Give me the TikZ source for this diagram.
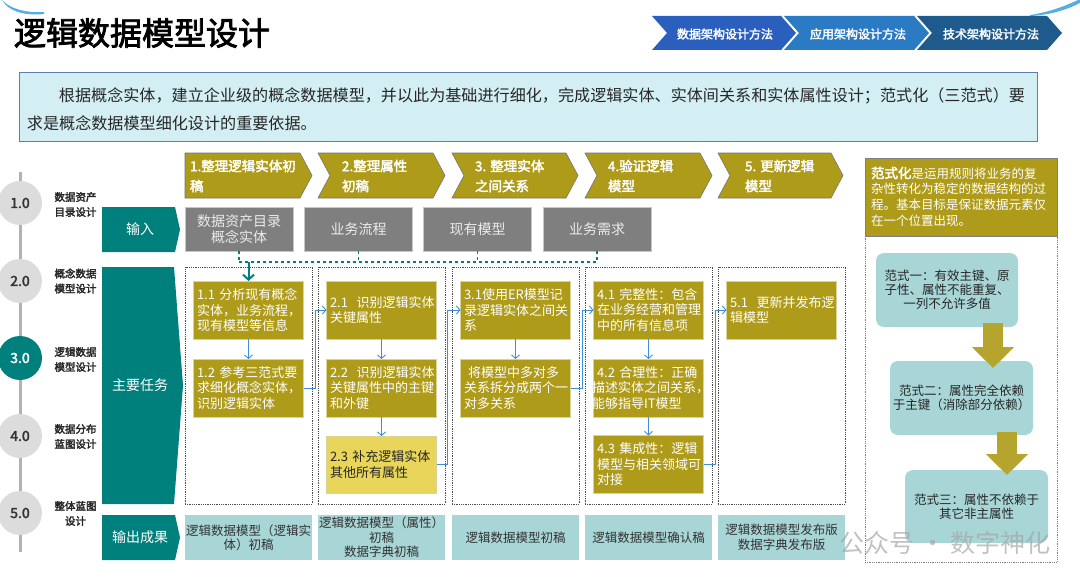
\documentclass[tikz,border=0pt]{standalone}
\usepackage{fontspec}
\setmainfont{Noto Sans CJK SC}[AutoFakeBold=2.5]
\usetikzlibrary{arrows.meta,calc}
\definecolor{olive}{HTML}{AF9B1A}
\definecolor{lightolive}{HTML}{E8D55A}
\definecolor{teal}{HTML}{00807D}
\definecolor{ingray}{HTML}{7F7F7F}
\definecolor{outfill}{HTML}{A8D5D6}
\definecolor{introfill}{HTML}{D4EFF4}
\definecolor{introdraw}{HTML}{5A7FB0}
\definecolor{circgray}{HTML}{DCDCDC}
\definecolor{arrowblue}{HTML}{3F8FD8}
\definecolor{bigarrow}{HTML}{B5A52C}
\definecolor{tabA}{HTML}{2B5FBD}
\definecolor{tabB}{HTML}{2A7BC4}
\definecolor{tabC}{HTML}{1F5A8C}
\definecolor{swoosh}{HTML}{55AEE3}
\newcommand\fsz[2]{\fontsize{#1}{#2}\selectfont}
\begin{document}
\begin{tikzpicture}[x=1pt,y=-1pt,
  every node/.style={inner sep=0pt, outer sep=0pt},
  task/.style={fill=olive, draw=olive!45!white, line width=.8pt, minimum width=110pt, minimum height=58pt, text width=103pt, align=left, text=white, font=\fsz{13}{15.5}},
  taskl/.style={task, fill=lightolive, text=black!85, minimum height=57pt},
  colbox/.style={draw=black!70, densely dotted, line width=.8pt, minimum width=127pt, minimum height=237pt},
  outb/.style={fill=outfill, minimum width=127pt, minimum height=45pt, align=center, text=black!80, font=\fsz{12.5}{14.5}},
  inb/.style={fill=ingray, draw=black!22, line width=.6pt, minimum width=108pt, minimum height=44pt, align=center, text=white!92!black, font=\fsz{14}{16.5}},
  hdr/.style={fill=olive, draw=black!55, line width=.6pt},
  hdrtext/.style={text=white, font=\bfseries\fsz{13.5}{20}, align=left, anchor=west},
  tabtext/.style={text=white, font=\bfseries\fsz{12}{14}},
  tealshape/.style={fill=teal},
  tealtext/.style={text=white, font=\fsz{14}{16}},
  circ/.style={circle, fill=circgray, minimum size=44pt, font=\bfseries\fsz{14}{16}, text=black!80},
  lbl/.style={align=center, font=\bfseries\fsz{10.5}{15}, text=black!85},
  barrow/.style={draw=arrowblue, line width=.9pt, -{Straight Barb[length=3.5pt,width=8pt]}},
  tdash/.style={draw=teal, dashed, line width=1.8pt},
  tarrow/.style={draw=teal, line width=2pt, -{Straight Barb[length=5pt,width=11pt]}},
  rbox/.style={fill=outfill, rounded corners=8pt, align=center, text=black!85, font=\fsz{12.5}{14}},
  fatarrow/.style={draw=bigarrow, line width=20pt, -{Triangle[length=21pt,width=41pt]}}
]
\useasboundingbox (0,0) rectangle (1080,586);

% swooshes
\fill[swoosh] (2,0) .. controls (10,9) and (26,13) .. (44,12) -- (44,14) .. controls (24,16) and (8,11) .. (2,0) -- cycle;
\fill[swoosh] (1030,15) .. controls (1050,12) and (1065,6) .. (1078,0) -- (1080,0) -- (1080,3) .. controls (1066,10) and (1050,15) .. (1030,16) -- cycle;

% title
\node[anchor=west, font=\bfseries\fsz{32}{36}] (title) at (14,33) {逻辑数据模型设计};

% tabs
\fill[tabA] (652,16) -- (782,16) -- (797,33) -- (782,50) -- (652,50) -- (667,33) -- cycle;
\fill[tabB] (784,16) -- (915,16) -- (930,33) -- (915,50) -- (784,50) -- (799,33) -- cycle;
\fill[tabC] (917,16) -- (1047,16) -- (1062,33) -- (1047,50) -- (917,50) -- (932,33) -- cycle;
\draw[white, line width=1.2pt] (782,16) -- (797,33) -- (782,50);
\draw[white, line width=1.2pt] (915,16) -- (930,33) -- (915,50);
\node[tabtext] (tab1) at (725,34) {数据架构设计方法};
\node[tabtext] (tab2) at (858,34) {应用架构设计方法};
\node[tabtext] (tab3) at (991,34) {技术架构设计方法};

% intro
\node[draw=introdraw, fill=introfill, line width=1pt, minimum width=1018pt, minimum height=68pt] (intro) at (528,107) {};
\node[anchor=west, align=left, font=\fsz{16.1}{28}, text=black!85] (introtext) at (27,109)
{\hspace*{32pt}根据概念实体，建立企业级的概念数据模型，并以此为基础进行细化，完成逻辑实体、实体间关系和实体属性设计；范式化（三范式）要\\求是概念数据模型细化设计的重要依据。};

% timeline
\draw[black!30, line width=3pt] (20,172) -- (20,552);
\node[circ] (c1) at (20,203) {1.0};
\node[circ] (c2) at (20,281) {2.0};
\node[circ, fill=teal, text=white] (c3) at (20,358) {3.0};
\node[circ] (c4) at (20,436) {4.0};
\node[circ] (c5) at (20,513) {5.0};
\node[lbl] (l1) at (75.5,204.5) {数据资产\\目录设计};
\node[lbl] (l2) at (75.5,281) {概念数据\\模型设计};
\node[lbl] (l3) at (75.5,359.5) {逻辑数据\\模型设计};
\node[lbl] (l4) at (75.5,436.5) {数据分布\\蓝图设计};
\node[lbl] (l5) at (75.5,513.5) {整体蓝图\\设计};

% teal row labels
\fill[tealshape] (102,207) -- (175,207) -- (180,229.5) -- (175,252) -- (102,252) -- cycle;
\fill[tealshape] (102,267) -- (174,267) -- (183,385.5) -- (174,504) -- (102,504) -- cycle;
\fill[tealshape] (102,515) -- (175,515) -- (180,537.5) -- (175,560) -- (102,560) -- cycle;
\node[tealtext] (rin) at (140,229.5) {输入};
\node[tealtext] (rtask) at (140,385.5) {主要任务};
\node[tealtext] (rout) at (140,537.5) {输出成果};

% header chevrons
\filldraw[hdr] (185,153) -- (300,153) -- (312,175.5) -- (300,198) -- (185,198) -- cycle;
\filldraw[hdr] (318,153) -- (433,153) -- (445,175.5) -- (433,198) -- (318,198) -- (330,175.5) -- cycle;
\filldraw[hdr] (452,153) -- (566,153) -- (578,175.5) -- (566,198) -- (452,198) -- (464,175.5) -- cycle;
\filldraw[hdr] (585,153) -- (700,153) -- (712,175.5) -- (700,198) -- (585,198) -- (597,175.5) -- cycle;
\filldraw[hdr] (718,153) -- (831,153) -- (843,175.5) -- (831,198) -- (718,198) -- (730,175.5) -- cycle;
\node[hdrtext] (h1) at (190,176) {1.整理逻辑实体初\\稿};
\node[hdrtext] (h2) at (342,176) {2.整理属性\\初稿};
\node[hdrtext] (h3) at (475,176) {3. 整理实体\\之间关系};
\node[hdrtext] (h4) at (608,176) {4.验证逻辑\\模型};
\node[hdrtext] (h5) at (745,176) {5. 更新逻辑\\模型};

% inputs
\node[inb] (in1) at (239,229) {数据资产目录\\概念实体};
\node[inb] (in2) at (358.5,229) {业务流程};
\node[inb] (in3) at (477.5,229) {现有模型};
\node[inb] (in4) at (597,229) {业务需求};
\coordinate (bus) at (0,262);
\draw[tdash] (in1.south) -- (in1.south |- bus);
\draw[tdash] (in2.south) -- (in2.south |- bus);
\draw[tdash] (in3.south) -- (in3.south |- bus);
\draw[tdash] (in4.south) -- (in4.south |- bus);
\draw[tdash] (in1.south |- bus) -- (in4.south |- bus);

% column containers
\node[colbox] (col1) at (248.5,385.5) {};
\node[colbox] (col2) at (381.5,385.5) {};
\node[colbox] (col3) at (515.5,385.5) {};
\node[colbox] (col4) at (648.5,385.5) {};
\node[colbox] (col5) at (781.5,385.5) {};

% tasks
\node[task] (t11) at (248.5,310) {1.1~分析现有概念\\实体，业务流程，\\现有模型等信息};
\node[task] (t12) at (248.5,388) {1.2~参考三范式要\\求细化概念实体，\\识别逻辑实体};
\node[task] (t21) at (381.5,310) {2.1~~识别逻辑实体\\关键属性};
\node[task] (t22) at (381.5,388) {2.2~~识别逻辑实体\\关键属性中的主键\\和外键};
\node[taskl] (t23) at (381.5,464.5) {2.3~补充逻辑实体\\其他所有属性};
\node[task] (t31) at (515.5,310) {3.1使用ER模型记\\录逻辑实体之间关\\系};
\node[task] (t32) at (515.5,388) {\hspace*{4pt}将模型中多对多\\关系拆分成两个一\\对多关系};
\node[task] (t41) at (648.5,310) {4.1~完整性：包含\\在业务经营和管理\\中的所有信息项};
\node[task] (t42) at (648.5,388) {4.2~合理性：正确\\\hspace*{-5pt}描述实体之间关系，\\\hspace*{-5pt}能够指导IT模型};
\node[task] (t43) at (648.5,464.5) {4.3~集成性：逻辑\\模型与相关领域可\\对接};
\node[task] (t51) at (781.5,310) {5.1~~更新并发布逻\\辑模型};

\draw[tarrow] (t11.north |- bus) -- (t11.north);

\draw[barrow] (t11.south) -- (t12.north);
\draw[barrow] (t21.south) -- (t22.north);
\draw[barrow] (t22.south) -- (t23.north);
\draw[barrow] (t31.south) -- (t32.north);
\draw[barrow] (t41.south) -- (t42.north);
\draw[barrow] (t42.south) -- (t43.north);
\draw[barrow] (t12.east) -- ++(12,0) |- (t21.west);
\draw[barrow] (t23.east) -- ++(11,0) |- (t31.west);
\draw[barrow] (t32.east) -- ++(12,0) |- (t41.west);
\draw[barrow] (t43.east) -- ++(12,0) |- (t51.west);

% outputs
\node[outb] (o1) at (248.5,537.5) {逻辑数据模型（逻辑实\\体）初稿};
\node[outb] (o2) at (381.5,537.5) {逻辑数据模型（属性）\\初稿\\数据字典初稿};
\node[outb] (o3) at (515.5,537.5) {逻辑数据模型初稿};
\node[outb] (o4) at (648.5,537.5) {逻辑数据模型确认稿};
\node[outb] (o5) at (781.5,537.5) {逻辑数据模型发布版\\数据字典发布版};

% right panel
\node[draw=black!50, densely dotted, line width=.8pt, minimum width=192pt, minimum height=404pt] (panel) at (961,360) {};
\node[fill=olive, draw=black!50, line width=.6pt, minimum width=192pt, minimum height=78pt] (phead) at (961,197) {};
\node[anchor=west, align=left, text=white, font=\fsz{12.5}{15.7}] (ptext) at (871,196.5)
{{\bfseries\fsz{13.5}{15.7}范式化}是运用规则将业务的复\\杂性转化为稳定的数据结构的过\\程。基本目标是保证数据元素仅\\在一个位置出现。};
\node[rbox, minimum width=142pt, minimum height=74pt] (r1) at (947,290) {范式一：有效主键、原\\子性、属性不能重复、\\一列不允许多值};
\node[rbox, minimum width=143pt, minimum height=74pt] (r2) at (961.5,398) {范式二：属性完全依赖\\于主键（消除部分依赖）};
\node[rbox, minimum width=143pt, minimum height=73pt] (r3) at (976.5,506.5) {范式三：属性不依赖于\\其它非主属性};
\coordinate (a1s) at ($(r1.south)+(46,-4)$);
\coordinate (a1e) at ($(r2.north)+(31.5,7)$);
\coordinate (a2s) at ($(r2.south)+(45.5,-3)$);
\coordinate (a2e) at ($(r3.north)+(30.5,5)$);
\draw[fatarrow] (a1s) -- (a1e);
\draw[fatarrow] (a2s) -- (a2e);

% watermark
\node[text=black!35, opacity=.7, font=\fsz{25}{25}] (wm) at (945,543) {公众号 · 数字神化};
\end{tikzpicture}
\end{document}
